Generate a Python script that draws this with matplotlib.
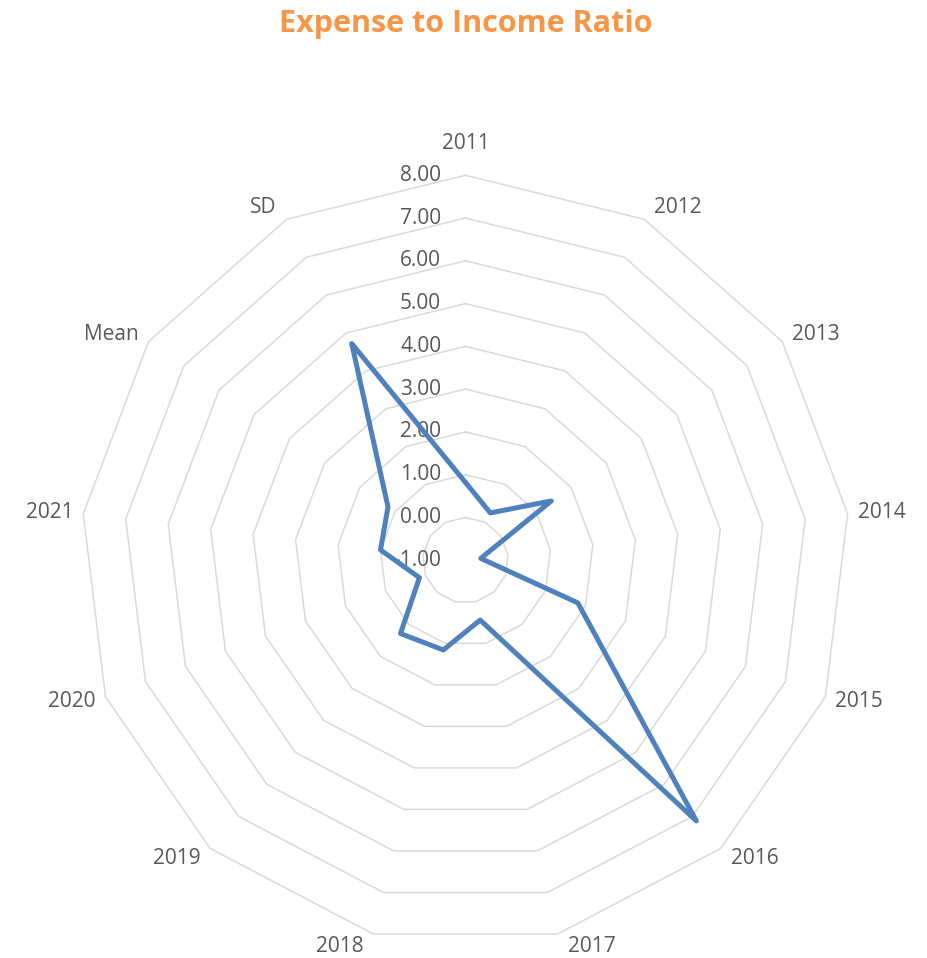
import numpy as np
import matplotlib
matplotlib.use("Agg")
import matplotlib.pyplot as plt

plt.rcParams["font.family"] = ["Open Sans", "DejaVu Sans"]

# ------------------------------------------------------
# Data
# ------------------------------------------------------
categories = ["2011", "2012", "2013", "2014", "2015", "2016", "2017",
              "2018", "2019", "2020", "2021", "Mean", "SD"]
ratio = [0.82, 0.25, 1.44, -0.64, 1.81, 7.14, 0.44,
         1.16, 1.29, 0.15, 1.00, 1.20, 4.72]
ring_levels = [-1, 0, 1, 2, 3, 4, 5, 6, 7, 8]

grid_color = "#D9D9D9"
text_color = "#595959"
line_color = "#4F81BD"

n = len(categories)
theta = np.arange(n) * 2 * np.pi / n
theta_closed = np.append(theta, theta[0])

fig = plt.figure(figsize=(9.27, 9.58), dpi=100)
# square polar area: centre at (465, 560) px, outer ring radius 385 px
ax = fig.add_axes([0.0868, 0.0133, 0.8306, 0.8038], projection="polar")
ax.set_theta_zero_location("N")
ax.set_theta_direction(-1)
ax.set_ylim(ring_levels[0], ring_levels[-1])
ax.grid(False)
ax.spines["polar"].set_visible(False)
ax.set_xticks([])
ax.set_yticks([])
ax.patch.set_alpha(0)

# polygon grid rings
for lvl in ring_levels[1:]:
    ax.plot(theta_closed, [lvl] * (n + 1), color=grid_color, lw=1.1,
            zorder=1, clip_on=False)

# data line
vals = ratio + [ratio[0]]
ax.plot(theta_closed, vals, color=line_color, lw=3.6, solid_joinstyle="round",
        solid_capstyle="round", zorder=3, clip_on=False)

# radial axis labels along 2011 spoke
for lvl in ring_levels:
    ax.annotate(f"{lvl:.2f}", xy=(0, lvl), xytext=(-17.5, 0),
                textcoords="offset points", ha="right", va="center",
                fontsize=15, color=text_color, zorder=2)

# category labels, placed just outside each outer vertex (Excel style)
px = 0.72  # points per pixel at 100 dpi
for t, lab in zip(theta, categories):
    s, c = np.sin(t), np.cos(t)
    if abs(s) < 1e-6:
        ha, dx, dy = "center", 0, 32
    else:
        ha = "left" if s > 0 else "right"
        dx, dy = 10 * np.sign(s), 13 * c
    ax.annotate(lab, xy=(t, ring_levels[-1]), xytext=(dx * px, dy * px),
                textcoords="offset points", ha=ha, va="center",
                fontsize=15, color=text_color, annotation_clip=False)

fig.text(0.502, 0.975, "Expense to Income Ratio", ha="center", va="center",
         fontsize=22, fontweight="bold", color="#F79646")

fig.savefig("out.png", dpi=100)
